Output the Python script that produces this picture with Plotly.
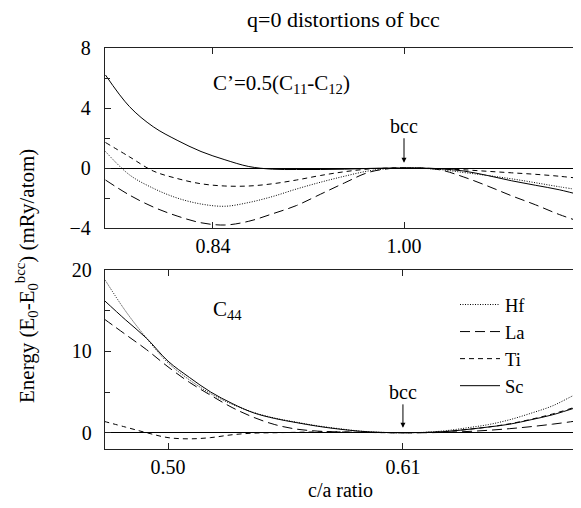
import plotly.graph_objects as go

# ---- top panel: C' = 0.5(C11-C12) distortion ----
ca_top = [0.75, 0.77, 0.79, 0.81, 0.83, 0.85, 0.87, 0.89, 0.91, 0.93, 0.95, 0.97, 0.99,
          1.00, 1.01, 1.03, 1.05, 1.07, 1.09, 1.11, 1.13, 1.15]
hf_top = [1.1, -0.45, -1.35, -2.0, -2.4, -2.55, -2.3, -1.9, -1.4, -0.95, -0.55, -0.2, -0.02,
          0.0, 0.0, -0.1, -0.3, -0.5, -0.72, -0.98, -1.25, -1.5]
la_top = [-0.8, -1.8, -2.6, -3.2, -3.65, -3.8, -3.55, -3.05, -2.5, -1.75, -1.0, -0.3, -0.02,
          0.0, 0.0, -0.12, -0.6, -1.2, -1.85, -2.45, -3.1, -3.65]
ti_top = [1.7, 0.75, -0.2, -0.7, -1.05, -1.2, -1.2, -1.05, -0.8, -0.5, -0.25, -0.07, 0.0,
          0.0, 0.0, -0.05, -0.12, -0.22, -0.32, -0.42, -0.55, -0.72]
sc_top = [6.2, 4.1, 2.75, 1.85, 1.1, 0.55, 0.1, -0.08, -0.1, -0.1, -0.08, -0.03, 0.0,
          0.0, 0.0, -0.05, -0.2, -0.5, -0.85, -1.15, -1.45, -1.85]

# ---- bottom panel: C44 distortion ----
ca_bot = [0.47, 0.48, 0.49, 0.50, 0.51, 0.52, 0.53, 0.54, 0.55, 0.56, 0.57, 0.58, 0.59,
          0.60, 0.61, 0.62, 0.63, 0.64, 0.65, 0.66, 0.67, 0.68, 0.69, 0.695]
hf_bot = [19.0, 15.0, 11.6, 8.6, 6.5, 4.8, 3.5, 2.5, 1.8, 1.3, 0.85, 0.5, 0.2,
          0.05, 0.0, 0.05, 0.25, 0.6, 1.0, 1.6, 2.4, 3.3, 4.6, 5.2]
la_bot = [14.0, 12.1, 10.2, 8.1, 6.2, 4.6, 3.1, 1.9, 1.0, 0.45, 0.2, 0.1, 0.05,
          0.02, 0.0, 0.0, 0.05, 0.15, 0.3, 0.5, 0.75, 1.05, 1.4, 1.6]
ti_bot = [1.4, 0.7, 0.0, -0.6, -0.75, -0.6, -0.25, -0.05, 0.0, 0.05, 0.1, 0.1, 0.05,
          0.01, 0.0, 0.03, 0.15, 0.4, 0.7, 1.1, 1.65, 2.3, 3.1, 3.6]
sc_bot = [16.3, 13.9, 11.6, 8.8, 6.8, 5.0, 3.6, 2.45, 1.75, 1.25, 0.8, 0.45, 0.18,
          0.04, 0.0, 0.03, 0.15, 0.4, 0.7, 1.05, 1.6, 2.2, 3.0, 3.4]

names = ["Hf", "La", "Ti", "Sc"]
dashes = ["1px,1.5px", "10px,5px", "5px,4px", "solid"]
top_series = [hf_top, la_top, ti_top, sc_top]
bot_series = [hf_bot, la_bot, ti_bot, sc_bot]

top_ticks = [0.84, 1.00]
top_ticktext = ["0.84", "1.00"]
bot_ticks = [0.50, 0.61]
bot_ticktext = ["0.50", "0.61"]

FONT = "Liberation Serif"
fig = go.Figure()

for name, dash, ys in zip(names, dashes, top_series):
    fig.add_trace(go.Scatter(x=ca_top, y=ys, mode="lines", name=name, showlegend=False,
                             line=dict(color="black", width=1, dash=dash, shape="spline"),
                             xaxis="x", yaxis="y"))
for name, dash, ys in zip(names, dashes, bot_series):
    fig.add_trace(go.Scatter(x=ca_bot, y=ys, mode="lines", name=name, showlegend=True,
                             line=dict(color="black", width=1, dash=dash, shape="spline"),
                             xaxis="x2", yaxis="y2"))

# page has an 8px body margin; figure coordinates = screen - 8
W, H = 581, 508
L, R, T, B = 97, 6, 40, 67
pw = W - L - R
ph = H - T - B
top_dom = [(441 - 220) / ph, 1.0]
bot_dom = [0.0, (441 - 262) / ph]

axis_common = dict(showline=True, linecolor="#222", linewidth=1.4, ticks="inside",
                   ticklen=6, tickcolor="#222", showgrid=False,
                   tickfont=dict(family=FONT, size=20, color="black"))

fig.update_layout(
    width=W, height=H,
    margin=dict(l=L, r=R, t=T, b=B),
    paper_bgcolor="white", plot_bgcolor="white",
    font=dict(family=FONT, color="black"),
    xaxis=dict(domain=[0, 1], anchor="y", range=[0.7496, 1.1499], tickvals=top_ticks,
               ticktext=top_ticktext, mirror="ticks", zeroline=False, **axis_common),
    yaxis=dict(domain=top_dom, anchor="x", range=[-4, 8], tickvals=[-4, 0, 4, 8],
               zeroline=True, zerolinecolor="black", zerolinewidth=1, mirror="ticks",
               ticklabelstandoff=9,
               minor=dict(tickvals=[-2, 2, 6], ticks="inside", ticklen=5, tickcolor="#222"),
               **axis_common),
    xaxis2=dict(domain=[0, 1], anchor="y2", range=[0.4705, 0.6943], tickvals=bot_ticks,
                ticktext=bot_ticktext, mirror="ticks", zeroline=False, **axis_common),
    yaxis2=dict(domain=bot_dom, anchor="x2", range=[-2, 20], tickvals=[0, 10, 20],
                zeroline=True, zerolinecolor="black", zerolinewidth=1, mirror="ticks",
                ticklabelstandoff=8,
                minor=dict(tickvals=[5, 15], ticks="inside", ticklen=5, tickcolor="#222"),
                **axis_common),
    legend=dict(x=(447 - L) / pw, y=(441 - 278) / ph, xanchor="left", yanchor="top",
                bgcolor="rgba(0,0,0,0)", font=dict(family=FONT, size=18.5, color="black"),
                itemwidth=40, tracegroupgap=0),
    showlegend=True,
)

annotations = [
    dict(text="q=0 distortions of bcc", xref="paper", yref="paper", x=(335 - L) / pw,
         y=1 + (T - 12) / ph, showarrow=False, font=dict(size=22),
         xanchor="center", yanchor="middle"),
    dict(text="c/a ratio", xref="paper", yref="paper", x=(332 - L) / pw, y=-(482 - 441) / ph,
         showarrow=False, font=dict(size=20), xanchor="center", yanchor="middle"),
    dict(text="Energy (E<sub>0</sub>-E<sub>0</sub><sup>bcc</sup>) (mRy/atom)",
         xref="paper", yref="paper", x=(18 - L) / pw, y=(441 - 268) / ph,
         textangle=-90, showarrow=False, font=dict(size=21),
         xanchor="center", yanchor="middle"),
    dict(text="C’=0.5(C<sub>11</sub>-C<sub>12</sub>)", xref="x", yref="y",
         x=0.897, y=5.6, showarrow=False, font=dict(size=21),
         xanchor="center", yanchor="middle"),
    dict(text="C<sub>44</sub>", xref="x2", yref="y2", x=0.528, y=15.1,
         showarrow=False, font=dict(size=21), xanchor="center", yanchor="middle"),
    dict(text="bcc", xref="x", yref="y", x=1.0, y=0.35, ax=0, ay=-37,
         showarrow=True, arrowhead=2, arrowsize=1, arrowwidth=1, arrowcolor="black",
         font=dict(size=20)),
    dict(text="bcc", xref="x2", yref="y2", x=0.61, y=0.6, ax=0, ay=-36,
         showarrow=True, arrowhead=2, arrowsize=1, arrowwidth=1, arrowcolor="black",
         font=dict(size=20)),
]
fig.update_layout(annotations=annotations)

fig.write_html("out.html")
